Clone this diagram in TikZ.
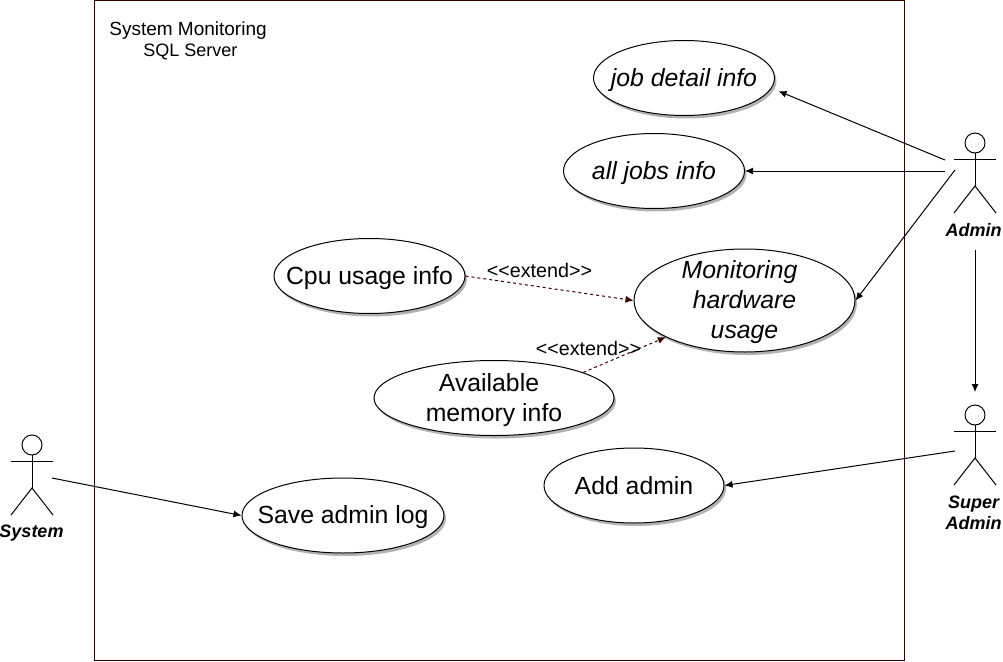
\documentclass[tikz,border=0pt]{standalone}
\usepackage{fontspec}
\setmainfont{Liberation Sans}
\usepackage{xcolor}
\usetikzlibrary{arrows.meta, shapes.geometric, shadows}
\definecolor{framered}{HTML}{330000}
\newcommand{\ucline}[1]{\raisebox{-2pt}[\height][\depth]{#1}}

\begin{document}
\begin{tikzpicture}[x=1pt, y=-1pt, line width=1pt,
  usecase/.style={draw, ellipse, fill=white, inner sep=-22pt, align=center,
    font=\fontsize{24.8}{30}\selectfont,
    drop shadow={shadow xshift=2pt, shadow yshift=-3pt, fill=black, opacity=0.3}},
  actorlabel/.style={align=center, font=\fontsize{18}{21}\selectfont\bfseries\itshape},
  assoc/.style={-{Latex[length=8pt,width=7pt]}},
  extendline/.style={assoc, dashed, framered, dash pattern=on 3pt off 3pt},
  actor/.pic={
    \draw (0,-16) circle (10);
    \draw (-21,0) -- (21,0);
    \draw (0,-6) -- (0,27);
    \draw (-21,54) -- (0,27) -- (21,54);
  }]
\useasboundingbox (0,0) rectangle (1003,661);
\draw[framered] (94.5,0.5) rectangle (904.5,660.5);
\node[align=left, font=\fontsize{19}{21}\selectfont] (title) at (188,41) {System Monitoring\\\hspace*{34pt}\fontsize{18}{21}\selectfont SQL Server};

\node[usecase, minimum width=181pt, minimum height=75pt] (jobdetail) at (684,78) {\ucline{\itshape job detail info}};
\node[usecase, minimum width=181pt, minimum height=75pt] (alljobs) at (654,171) {\ucline{\itshape all jobs info}};
\node[usecase, minimum width=191pt, minimum height=75pt] (cpu) at (369.5,276) {\ucline{Cpu usage info}};
\node[usecase, minimum width=221pt, minimum height=103pt] (hardware) at (744.5,300.5) {\ucline{\itshape Monitoring}\hspace*{10pt}\\\ucline{\itshape hardware}\\\ucline{\itshape usage}};
\node[usecase, minimum width=240pt, minimum height=75pt] (memory) at (494,398) {\ucline{Available}\hspace*{10pt}\\\ucline{memory info}};
\node[usecase, minimum width=180pt, minimum height=75pt] (addadmin) at (634,485.5) {Add admin};
\node[usecase, minimum width=202pt, minimum height=75pt] (savelog) at (343,515.5) {\ucline{Save admin log}};

% actors
\pic at (975,159) {actor};
\node[actorlabel] (admin) at (973.5,230) {Admin};
\pic at (975,431) {actor};
\node[actorlabel] (superadmin) at (973.5,512.5) {Super\\Admin};
\pic at (32,461) {actor};
\node[actorlabel] (system) at (31.5,533) {System};

\coordinate (admin1) at (945,160);
\coordinate (admin2) at (945,171);
\coordinate (admin3) at (955,170);
\coordinate (admin4) at (975,250);
\coordinate (super1) at (975,392);
\coordinate (super2) at (955,451);
\coordinate (system1) at (52,478);

\draw[assoc] (admin1) -- ([xshift=8.3pt,yshift=-1pt]jobdetail.-8);
\draw[assoc] (admin2) -- (alljobs.east);
\draw[assoc] (admin3) -- (hardware.east);
\draw[assoc] (admin4) -- (super1);
\draw[assoc] (super2) -- (addadmin.east);
\draw[assoc] (system1) -- (savelog.west);

\draw[extendline] (cpu.east) -- (hardware.west);
\draw[extendline] (memory.16) -- (hardware.205);
\node[font=\fontsize{19.7}{21}\selectfont] (extend1) at (539.5,270) {<{}<extend>{}>};
\node[font=\fontsize{19.7}{21}\selectfont] (extend2) at (588.5,348) {<{}<extend>{}>};
\end{tikzpicture}
\end{document}
